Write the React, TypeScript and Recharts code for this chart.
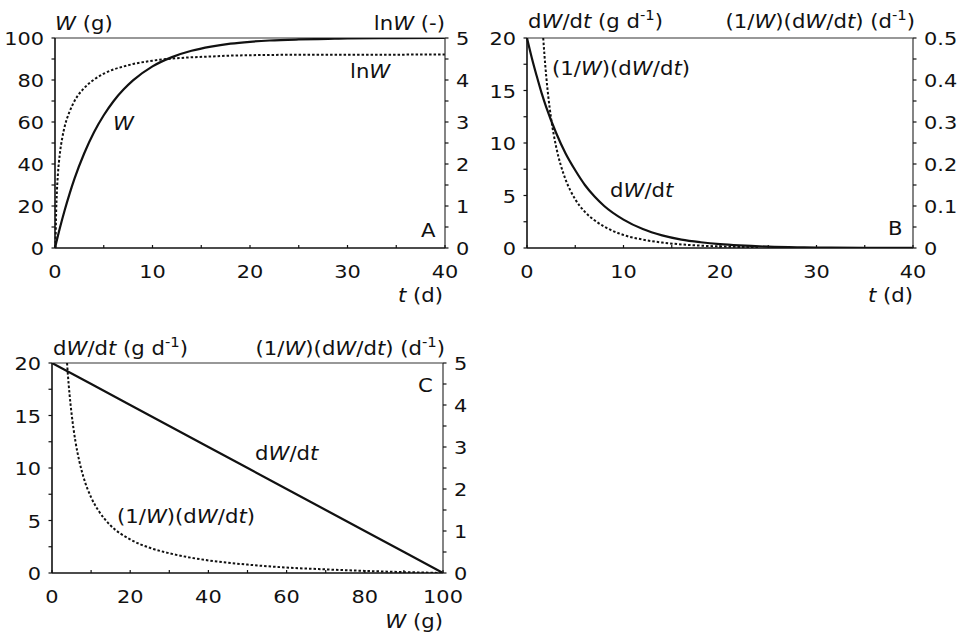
import React from "react";
import { LineChart, Line, XAxis, YAxis, ReferenceLine } from "recharts";

// A: weight and ln(weight) over time
const tDays = [0, 0.5, 1, 1.5, 2, 3, 4, 5, 6, 7, 8, 10, 12, 14, 16, 18, 20, 22, 25, 28, 30, 35, 40];
const weightG = [0, 9.5, 18.1, 25.9, 33.0, 45.1, 55.1, 63.2, 69.9, 75.3, 79.8, 86.5, 90.9, 93.9, 95.9, 97.3, 98.2, 98.8, 99.3, 99.6, 99.8, 99.9, 100];
const tLog = [0.05, 0.1, 0.2, 0.3, 0.5, 0.75, 1, 1.5, 2, 3, 4, 5, 6, 7, 8, 10, 12, 14, 16, 18, 20, 25, 30, 40];
const lnWeight = [0, 0.68, 1.37, 1.76, 2.25, 2.63, 2.9, 3.25, 3.5, 3.81, 4.01, 4.15, 4.25, 4.32, 4.38, 4.46, 4.51, 4.54, 4.56, 4.58, 4.59, 4.6, 4.6, 4.61];

// B: absolute and relative growth rate over time
const growthRate = [20, 18.1, 16.4, 14.8, 13.4, 11.0, 9.0, 7.4, 6.0, 4.9, 4.0, 2.7, 1.8, 1.2, 0.8, 0.55, 0.37, 0.25, 0.13, 0.07, 0.05, 0.02, 0.01];
const tRel = [1.68, 1.8, 2, 2.2, 2.5, 3, 3.5, 4, 5, 6, 7, 8, 10, 12, 14, 16, 18, 20, 22, 24];
const relGrowth = [0.5, 0.462, 0.407, 0.362, 0.308, 0.243, 0.197, 0.163, 0.116, 0.086, 0.066, 0.051, 0.031, 0.02, 0.013, 0.0085, 0.0056, 0.0037, 0.0025, 0.0016];

// C: rates against weight
const weightLin = [0, 20, 40, 60, 80, 100];
const rateLin = [20, 16, 12, 8, 4, 0];
const weightRel = [3.85, 4, 4.5, 5, 6, 7, 8, 10, 12, 15, 20, 25, 30, 40, 50, 60, 70, 80, 90, 100];
const relGrowthW = [5.0, 4.8, 4.24, 3.8, 3.13, 2.66, 2.3, 1.8, 1.47, 1.13, 0.8, 0.6, 0.47, 0.3, 0.2, 0.13, 0.086, 0.05, 0.022, 0];

// ticks (all) and labelled ticks
const ticksT = [0, 5, 10, 15, 20, 25, 30, 35, 40];
const majorT = [0, 10, 20, 30, 40];
const ticks100 = [0, 10, 20, 30, 40, 50, 60, 70, 80, 90, 100];
const major100 = [0, 20, 40, 60, 80, 100];
const ticks5 = [0, 0.5, 1, 1.5, 2, 2.5, 3, 3.5, 4, 4.5, 5];
const major5 = [0, 1, 2, 3, 4, 5];
const ticks20 = [0, 2.5, 5, 7.5, 10, 12.5, 15, 17.5, 20];
const major20 = [0, 5, 10, 15, 20];
const ticksHalf = [0, 0.05, 0.1, 0.15, 0.2, 0.25, 0.3, 0.35, 0.4, 0.45, 0.5];
const majorHalf = [0, 0.1, 0.2, 0.3, 0.4, 0.5];

const FONT = "'DejaVu Sans', Verdana, sans-serif";
const INK = "#111";

const pts = (xs: number[], ys: number[]) => xs.map((x, i) => ({ x, y: ys[i] }));

function AxisTick(props: any) {
  const { x, y, payload, side, majors } = props;
  const v = payload.value;
  const major = majors.some((m: number) => Math.abs(m - v) < 1e-9);
  const label = major ? String(v) : null;
  const textProps = { fontSize: 18.5, fontFamily: FONT, fill: INK };
  if (side === "bottom") {
    return (
      <g>
        <line x1={x} x2={x} y1={y} y2={y - 3} stroke={INK} strokeWidth={1.2} />
        {label && (
          <text transform={`translate(${x},${y + 30}) scale(1.13,1)`} textAnchor="middle" {...textProps}>
            {label}
          </text>
        )}
      </g>
    );
  }
  const dir = side === "left" ? -1 : 1;
  return (
    <g>
      <line x1={x} x2={x + dir * 3.5} y1={y} y2={y} stroke={INK} strokeWidth={1.2} />
      {label && (
        <text
          transform={`translate(${x + dir * 11},${y + 7}) scale(1.13,1)`}
          textAnchor={side === "left" ? "end" : "start"}
          {...textProps}
        >
          {label}
        </text>
      )}
    </g>
  );
}

function Txt({ x, y, anchor = "start", children }: any) {
  return (
    <text transform={`translate(${x},${y}) scale(1.06,1)`} textAnchor={anchor} fontSize={20} fontFamily={FONT} fill={INK}>
      {children}
    </text>
  );
}

const It = ({ children }: any) => <tspan fontStyle="italic">{children}</tspan>;
const PerDay = () => (
  <>
    {"(d"}
    <tspan dy={-8} fontSize={14}>-1</tspan>
    <tspan dy={8}>)</tspan>
  </>
);
const PerDayG = () => (
  <>
    {"(g d"}
    <tspan dy={-8} fontSize={14}>-1</tspan>
    <tspan dy={8}>)</tspan>
  </>
);

interface Series {
  data: { x: number; y: number }[];
  axis: "left" | "right";
  dotted?: boolean;
}

function Panel(p: {
  width: number;
  height: number;
  top: number;
  leftW: number;
  rightW: number;
  xH: number;
  xMax: number;
  xTicks: number[];
  xMajors: number[];
  lMax: number;
  lTicks: number[];
  lMajors: number[];
  rMax: number;
  rTicks: number[];
  rMajors: number[];
  series: Series[];
  children?: React.ReactNode;
}) {
  return (
    <LineChart width={p.width} height={p.height} margin={{ top: p.top, right: 0, bottom: 0, left: 0 }}>
      <XAxis
        dataKey="x"
        type="number"
        domain={[0, p.xMax]}
        ticks={p.xTicks}
        interval={0}
        allowDuplicatedCategory={false}
        height={p.xH}
        tickSize={0}
        tickMargin={0}
        tick={<AxisTick side="bottom" majors={p.xMajors} />}
        axisLine={{ stroke: INK, strokeWidth: 1.6 }}
      />
      <YAxis
        yAxisId="left"
        orientation="left"
        type="number"
        domain={[0, p.lMax]}
        allowDataOverflow
        ticks={p.lTicks}
        interval={0}
        width={p.leftW}
        tickSize={0}
        tickMargin={0}
        tick={<AxisTick side="left" majors={p.lMajors} />}
        axisLine={{ stroke: INK, strokeWidth: 1.6 }}
      />
      <YAxis
        yAxisId="right"
        orientation="right"
        type="number"
        domain={[0, p.rMax]}
        allowDataOverflow
        ticks={p.rTicks}
        interval={0}
        width={p.rightW}
        tickSize={0}
        tickMargin={0}
        tick={<AxisTick side="right" majors={p.rMajors} />}
        axisLine={{ stroke: "#333", strokeWidth: 1.2 }}
      />
      <ReferenceLine yAxisId="left" y={p.lMax} stroke="#333" strokeWidth={1.2} />
      {p.series.map((s, i) => (
        <Line
          key={i}
          data={s.data}
          dataKey="y"
          yAxisId={s.axis}
          type="monotone"
          dot={false}
          stroke={INK}
          strokeWidth={s.dotted ? 2 : 2.2}
          strokeDasharray={s.dotted ? "2.5 2" : undefined}
          isAnimationActive={false}
        />
      ))}
      {p.children}
    </LineChart>
  );
}

export default function App() {
  return (
    <div style={{ position: "absolute", left: 0, top: 0, width: 964, height: 636, background: "#fff" }}>
      <div style={{ position: "absolute", left: 0, top: 0 }}>
        <Panel
          width={480}
          height={320}
          top={38}
          leftW={55}
          rightW={35}
          xH={72}
          xMax={40}
          xTicks={ticksT}
          xMajors={majorT}
          lMax={100}
          lTicks={ticks100}
          lMajors={major100}
          rMax={5}
          rTicks={ticks5}
          rMajors={major5}
          series={[
            { data: pts(tDays, weightG), axis: "left" },
            { data: pts(tLog, lnWeight), axis: "right", dotted: true },
          ]}
        >
          <Txt x={55} y={30}>
            <It>W</It> (g)
          </Txt>
          <Txt x={445} y={30} anchor="end">
            ln<It>W</It> (-)
          </Txt>
          <Txt x={443} y={302} anchor="end">
            <It>t</It> (d)
          </Txt>
          <Txt x={350} y={78}>
            ln<It>W</It>
          </Txt>
          <Txt x={113} y={130}>
            <It>W</It>
          </Txt>
          <Txt x={421} y={237}>A</Txt>
        </Panel>
      </div>
      <div style={{ position: "absolute", left: 480, top: 0 }}>
        <Panel
          width={484}
          height={320}
          top={38}
          leftW={47}
          rightW={51}
          xH={72}
          xMax={40}
          xTicks={ticksT}
          xMajors={majorT}
          lMax={20}
          lTicks={ticks20}
          lMajors={major20}
          rMax={0.5}
          rTicks={ticksHalf}
          rMajors={majorHalf}
          series={[
            { data: pts(tDays, growthRate), axis: "left" },
            { data: pts(tRel, relGrowth), axis: "right", dotted: true },
          ]}
        >
          <Txt x={48} y={28}>
            d<It>W</It>/d<It>t</It> <PerDayG />
          </Txt>
          <Txt x={435} y={28} anchor="end">
            (1/<It>W</It>)(d<It>W</It>/d<It>t</It>) <PerDay />
          </Txt>
          <Txt x={72} y={75}>
            (1/<It>W</It>)(d<It>W</It>/d<It>t</It>)
          </Txt>
          <Txt x={130} y={197}>
            d<It>W</It>/d<It>t</It>
          </Txt>
          <Txt x={408} y={235}>B</Txt>
          <Txt x={433} y={302} anchor="end">
            <It>t</It> (d)
          </Txt>
        </Panel>
      </div>
      <div style={{ position: "absolute", left: 0, top: 320 }}>
        <Panel
          width={480}
          height={316}
          top={43}
          leftW={52}
          rightW={37}
          xH={63}
          xMax={100}
          xTicks={ticks100}
          xMajors={major100}
          lMax={20}
          lTicks={ticks20}
          lMajors={major20}
          rMax={5}
          rTicks={ticks5}
          rMajors={major5}
          series={[
            { data: pts(weightLin, rateLin), axis: "left" },
            { data: pts(weightRel, relGrowthW), axis: "right", dotted: true },
          ]}
        >
          <Txt x={53} y={35}>
            d<It>W</It>/d<It>t</It> <PerDayG />
          </Txt>
          <Txt x={445} y={35} anchor="end">
            (1/<It>W</It>)(d<It>W</It>/d<It>t</It>) <PerDay />
          </Txt>
          <Txt x={418} y={72}>C</Txt>
          <Txt x={255} y={140}>
            d<It>W</It>/d<It>t</It>
          </Txt>
          <Txt x={117} y={203}>
            (1/<It>W</It>)(d<It>W</It>/d<It>t</It>)
          </Txt>
          <Txt x={443} y={308} anchor="end">
            <It>W</It> (g)
          </Txt>
        </Panel>
      </div>
    </div>
  );
}
